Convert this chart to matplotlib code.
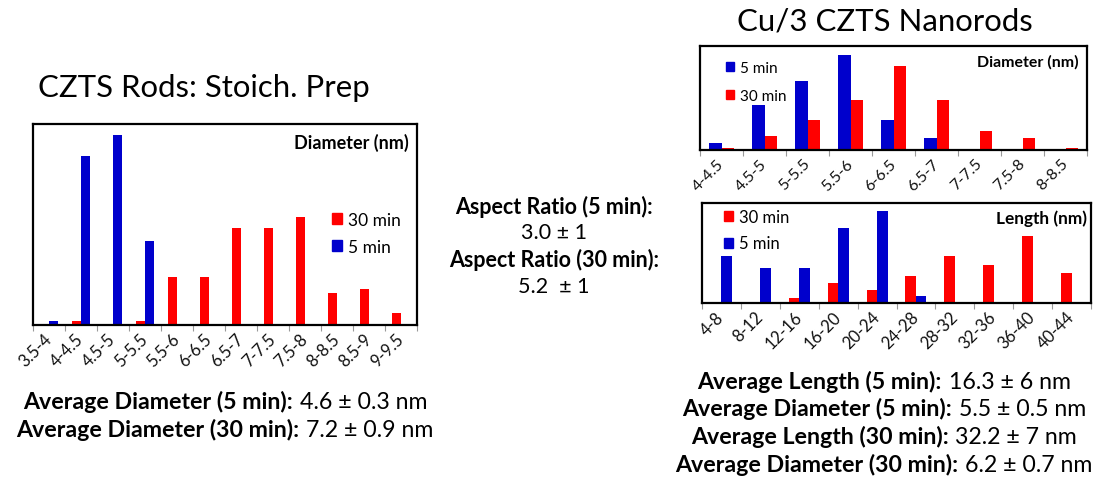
import matplotlib
matplotlib.use("Agg")
import matplotlib.pyplot as plt
from matplotlib.offsetbox import TextArea, HPacker, AnnotationBbox
from matplotlib.patches import Patch
import numpy as np

plt.rcParams['font.family'] = ['Lato', 'DejaVu Sans']

BLUE = '#0000CC'
RED = '#FF0000'

# CZTS rods, stoichiometric prep: diameter histogram (counts per bin)
stoich_bins = ["3.5-4", "4-4.5", "4.5-5", "5-5.5", "5.5-6", "6-6.5",
               "6.5-7", "7-7.5", "7.5-8", "8-8.5", "8.5-9", "9-9.5"]
stoich_5min = [1.0, 44.5, 50.0, 22.2, 0, 0, 0, 0, 0, 0, 0, 0]
stoich_30min = [0, 1.0, 0, 1.0, 12.7, 12.7, 25.6, 25.6, 28.6, 8.5, 9.5, 3.1]

# Cu/3 CZTS nanorods: diameter histogram
cu3_diam_bins = ["4-4.5", "4.5-5", "5-5.5", "5.5-6", "6-6.5",
                 "6.5-7", "7-7.5", "7.5-8", "8-8.5"]
cu3_diam_5min = [2.6, 17.4, 26.4, 36.5, 11.5, 4.5, 0, 0, 0]
cu3_diam_30min = [0.6, 5.5, 11.5, 19.4, 32.4, 19.4, 7.4, 4.5, 0.6]

# Cu/3 CZTS nanorods: length histogram
cu3_len_bins = ["4-8", "8-12", "12-16", "16-20", "20-24",
                "24-28", "28-32", "32-36", "36-40", "40-44"]
cu3_len_5min = [14.3, 10.5, 10.5, 22.7, 27.8, 2.1, 0, 0, 0, 0]
cu3_len_30min = [0, 0, 1.5, 6.0, 3.8, 8.2, 14.3, 11.4, 20.3, 9.0]

fig = plt.figure(figsize=(11.06, 4.85), dpi=100)
W, H = 1106, 485


def px_rect(x0, x1, ytop, ybot):
    return [x0 / W, (H - ybot) / H, (x1 - x0) / W, (ybot - ytop) / H]


def histogram(rect, bins, left, right, ymax, width, quantity,
              qty_pos, qty_size, leg_pos, leg_size, leg_spacing, tick_size):
    ax = fig.add_axes(rect)
    x = np.arange(len(bins))
    vals_l, lab_l, col_l = left
    vals_r, lab_r, col_r = right
    ax.bar(x - width, vals_l, width=width, align='edge', color=col_l,
           edgecolor='none', label=lab_l)
    ax.bar(x, vals_r, width=width, align='edge', color=col_r,
           edgecolor='none', label=lab_r)
    ax.set_xlim(-0.5, len(bins) - 0.5)
    ax.set_ylim(0, ymax)
    ax.set_yticks([])
    ax.set_xticks(x)
    ax.set_xticklabels(bins, rotation=45, ha='right', va='center',
                       rotation_mode='anchor', fontsize=tick_size,
                       color='#111111')
    ax.set_xticks(np.arange(len(bins) + 1) - 0.5, minor=True)
    ax.tick_params(axis='x', which='major', length=0, pad=8)
    ax.tick_params(axis='x', which='minor', length=4, width=0.8,
                   color='#999999')
    for s in ax.spines.values():
        s.set_linewidth(1.6)
        s.set_color('black')
    ax.text(qty_pos[0], qty_pos[1], quantity, transform=ax.transAxes,
            ha='right', va='center', fontsize=qty_size, fontweight='bold')
    handles = [Patch(color=col_l, label=lab_l), Patch(color=col_r, label=lab_r)]
    ax.legend(handles=handles, loc='center left', bbox_to_anchor=leg_pos,
              frameon=False, fontsize=leg_size, borderpad=0,
              borderaxespad=0, handlelength=0.55, handleheight=0.55,
              handletextpad=0.35, labelspacing=leg_spacing)
    return ax


histogram(px_rect(33, 417, 125, 326), stoich_bins,
          (stoich_30min, '30 min', RED), (stoich_5min, '5 min', BLUE),
          53, 0.27, 'Diameter (nm)', (0.979, 0.91), 13,
          (0.779, 0.457), 12.5, 0.65, 12)

histogram(px_rect(700, 1087, 47, 151), cu3_diam_bins,
          (cu3_diam_5min, '5 min', BLUE), (cu3_diam_30min, '30 min', RED),
          40, 0.30, 'Diameter (nm)', (0.979, 0.849), 11.4,
          (0.067, 0.655), 11, 0.95, 11.5)

histogram(px_rect(702, 1091, 204, 304), cu3_len_bins,
          (cu3_len_30min, '30 min', RED), (cu3_len_5min, '5 min', BLUE),
          30.2, 0.27, 'Length (nm)', (0.99, 0.85), 12.4,
          (0.057, 0.7275), 12, 0.62, 12)

# Panel titles
fig.text(204 / W, 1 - 88 / H, 'CZTS Rods: Stoich. Prep', ha='center',
         va='center', fontsize=22.4)
fig.text(885 / W, 1 - 22 / H, 'Cu/3 CZTS Nanorods', ha='center',
         va='center', fontsize=22.4)

# Aspect ratios
mid_lines = [("Aspect Ratio (5 min):", 'bold', 207),
             ("3.0 \u00b1 1", 'normal', 233),
             ("Aspect Ratio (30 min):", 'bold', 260),
             ("5.2  \u00b1 1", 'normal', 287)]
for txt, wt, yp in mid_lines:
    fig.text(554 / W, 1 - yp / H, txt, ha='center', va='center',
             fontsize=15.5, fontweight=wt)


def summary(label, value, xc, yc, size=16.7):
    box = HPacker(children=[
        TextArea(label, textprops=dict(fontsize=size, fontweight='bold')),
        TextArea(value, textprops=dict(fontsize=size))],
        pad=0, sep=5, align='baseline')
    ab = AnnotationBbox(box, (xc / W, 1 - yc / H), xycoords='figure fraction',
                        box_alignment=(0.5, 0.5), frameon=False, pad=0)
    fig.add_artist(ab)


left_summary = [("Average Diameter (5 min):", "4.6 \u00b1 0.3 nm"),
                 ("Average Diameter (30 min):", "7.2 \u00b1 0.9 nm")]
for (lab, val), yp in zip(left_summary, [402, 430]):
    summary(lab, val, 225, yp)

right_summary = [("Average Length (5 min):", "16.3 \u00b1 6 nm"),
                 ("Average Diameter (5 min):", "5.5 \u00b1 0.5 nm"),
                 ("Average Length (30 min):", "32.2 \u00b1 7 nm"),
                 ("Average Diameter (30 min):", "6.2 \u00b1 0.7 nm")]
for (lab, val), yp in zip(right_summary, [382, 409, 437, 465]):
    summary(lab, val, 884, yp)

fig.savefig('out.png', dpi=100)
